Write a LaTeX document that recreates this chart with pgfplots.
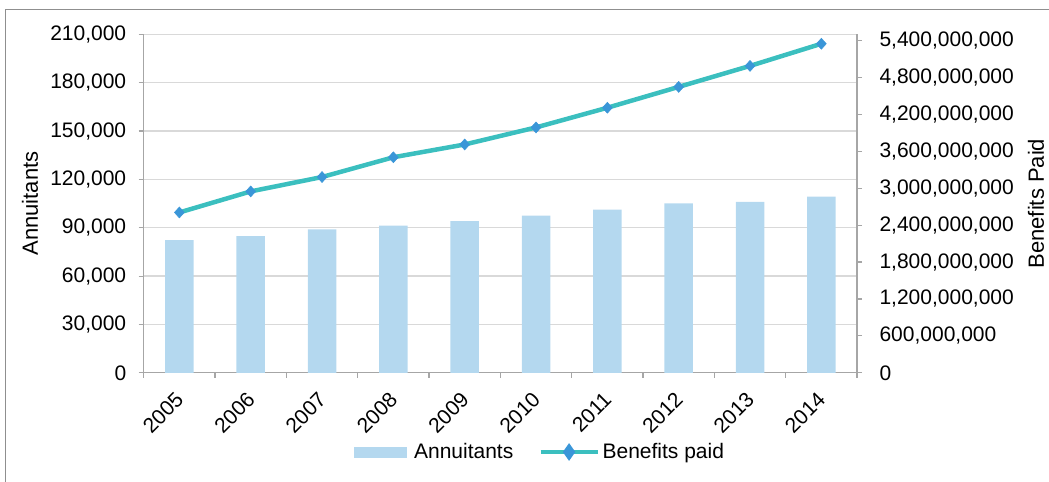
\documentclass[border=0pt]{standalone}
\usepackage{pgfplots}
\pgfplotsset{compat=1.18}
\usepackage{fontspec}
\setmainfont{Liberation Sans}
\definecolor{barc}{HTML}{B4D8EF}
\definecolor{linec}{HTML}{3BBFBF}
\definecolor{markc}{HTML}{3A96D8}
\definecolor{gridc}{HTML}{D9D9D9}
\definecolor{axc}{HTML}{A6A6A6}
\definecolor{framec}{HTML}{8F8F8F}
\newcommand{\tfont}{\fontsize{21bp}{25bp}\selectfont}
\newcommand{\xfont}{\fontsize{21bp}{25bp}\selectfont}
\newcommand{\lfont}{\fontsize{22bp}{26bp}\selectfont}
\begin{document}
\begin{tikzpicture}[x=1bp,y=1bp]
\path[use as bounding box] (0,0) rectangle (1049,-482);
\draw[framec, line width=1.5bp] (5.7,-500) -- (5.7,-9.3) -- (1070,-9.3);
\begin{axis}[
  at={(143.7bp,-372.8bp)}, anchor=south west,
  scale only axis, width=713.3bp, height=338.4bp,
  xmin=-0.5, xmax=9.5, ymin=0, ymax=210000,
  axis x line*=bottom, axis y line*=left,
  axis line style={axc, line width=1.2bp},
  tick style={axc, line width=1.2bp},
  major tick length=5bp, tick align=outside,
  xtick={-0.5,0.5,...,9.5},
  x tick label as interval,
  xticklabels={2005,2006,2007,2008,2009,2010,2011,2012,2013,2014},
  xticklabel style={xshift=-5bp, yshift=-13bp, rotate=45, anchor=north east, font=\xfont, inner sep=0pt},
  ytick={0,30000,60000,90000,120000,150000,180000,210000},
  scaled y ticks=false,
  yticklabel style={font=\tfont, xshift=-9bp, /pgf/number format/.cd, fixed, precision=0, 1000 sep={,}, assume math mode=true},
  ymajorgrids, major grid style={gridc, line width=1.3bp},
  ylabel={Annuitants}, ylabel style={at={(axis description cs:-0.1594,0.5)}, anchor=center, font=\lfont},
]
\addplot[ybar, bar width=0.4, bar shift=0pt, fill=barc, draw=none] coordinates {
(0,82350) (1,84830) (2,88990) (3,91280) (4,94200) (5,97490) (6,101280) (7,105190) (8,106050) (9,109340)};
\end{axis}
\begin{axis}[
  at={(143.7bp,-372.8bp)}, anchor=south west,
  scale only axis, width=713.3bp, height=338.4bp,
  xmin=-0.5, xmax=9.5, ymin=0, ymax=5.5e9,
  axis x line=none, axis y line*=right,
  axis line style={axc, line width=1.2bp},
  tick style={axc, line width=1.2bp},
  major tick length=5bp, tick align=outside,
  ytick={0,600000000,1200000000,1800000000,2400000000,3000000000,3600000000,4200000000,4800000000,5400000000},
  scaled y ticks=false,
  yticklabel style={font=\tfont, xshift=14bp, /pgf/number format/.cd, fixed, precision=0, 1000 sep={,}, assume math mode=true},
  ylabel={Benefits Paid}, ylabel style={at={(axis description cs:1.251,0.5)}, anchor=center, font=\lfont},
  legend columns=2,
  legend style={at={(axis description cs:0.5555,-0.234)}, anchor=center, draw=none, fill=none, font=\tfont,
    /tikz/every even column/.append style={column sep=23bp}},
  legend cell align=left,
]
\addlegendimage{legend image code/.code={\fill[barc] (0bp,-5bp) rectangle (52bp,5bp); \path[draw=none,fill=none] (0bp,0bp) -- (58bp,0bp);}}
\addlegendentry{Annuitants}
\addplot[linec, line width=4.5bp, mark=diamond*, mark size=5.5bp,
  mark options={fill=markc, draw=markc, line width=0.5bp, xscale=1.2},
  legend image code/.code={\draw[linec, line width=4.5bp] (0bp,0bp) -- (57bp,0bp);
    \fill[markc] (28.5bp,5bp) -- (32bp,0bp) -- (28.5bp,-5bp) -- (25bp,0bp) -- cycle;
    \path[draw=none,fill=none] (0bp,0bp) -- (60bp,0bp);}]
coordinates {
(0,2.606e9) (1,2.948e9) (2,3.182e9) (3,3.503e9) (4,3.711e9) (5,3.988e9) (6,4.308e9) (7,4.647e9) (8,4.988e9) (9,5.348e9)};
\addlegendentry{Benefits paid}
\end{axis}
\end{tikzpicture}
\end{document}
